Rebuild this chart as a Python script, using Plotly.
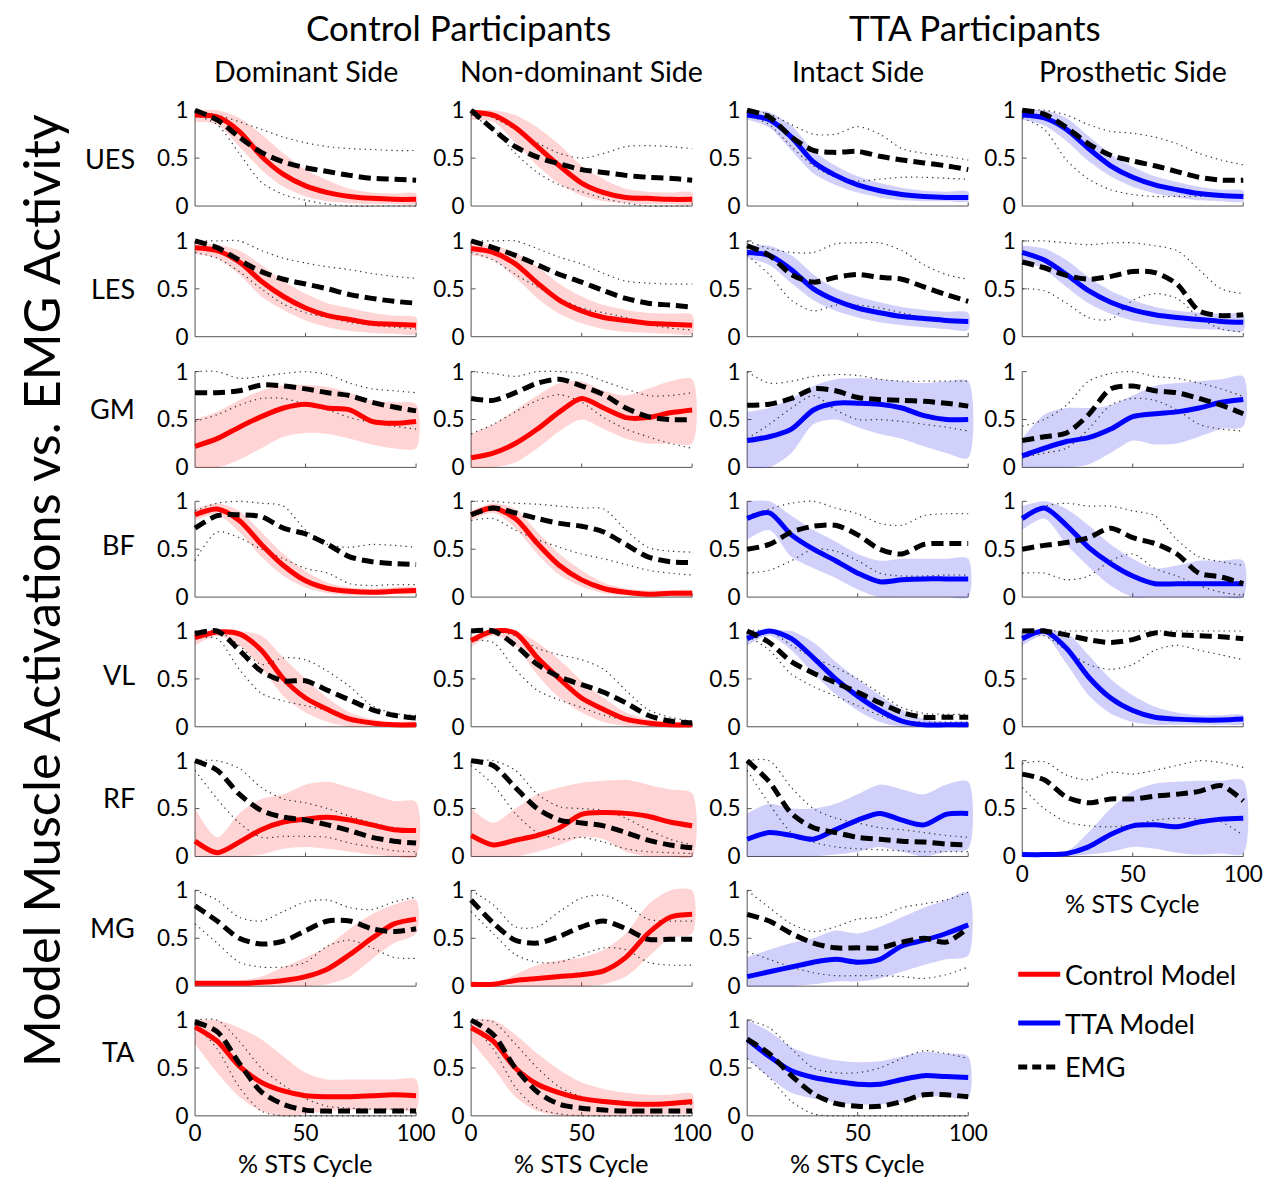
import plotly.graph_objects as go

W, H = 1273, 1185
FONT = "Lato"
# measured page-to-picture mapping of the viewer: picture = S * figure_px + (AX, AY)
S, AX, AY = 0.988, 1.0, 7.5

# ---------------- categories / ticks ----------------
X = [0, 10, 20, 30, 40, 50, 60, 70, 80, 90, 100]
MUSCLES = ["UES", "LES", "GM", "BF", "VL", "RF", "MG", "TA"]
SIDES = ["Dominant Side", "Non-dominant Side", "Intact Side", "Prosthetic Side"]
GROUPS = ["Control Participants", "TTA Participants"]
XTICKS = [0, 50, 100]
YTICKS = [0, 0.5, 1]
YTICKTEXT = ["0", "0.5", "1"]
LEGEND_LABELS = ["Control Model", "TTA Model", "EMG"]

# ---------------- data: model mean / band lo / band hi / EMG mean / EMG lo / EMG hi ----------------
# UES
ues_dom_model = [0.95, 0.93, 0.78, 0.52, 0.33, 0.21, 0.14, 0.10, 0.08, 0.07, 0.07]
ues_dom_lo = [0.88, 0.85, 0.62, 0.38, 0.20, 0.10, 0.05, 0.03, 0.02, 0.02, 0.02]
ues_dom_hi = [1.00, 1.00, 0.92, 0.75, 0.55, 0.38, 0.27, 0.18, 0.14, 0.13, 0.13]
ues_dom_emg = [1.00, 0.90, 0.72, 0.56, 0.46, 0.40, 0.36, 0.32, 0.29, 0.28, 0.27]
ues_dom_emg_lo = [0.95, 0.85, 0.55, 0.25, 0.12, 0.06, 0.02, 0.00, 0.00, 0.00, 0.00]
ues_dom_emg_hi = [1.00, 0.95, 0.88, 0.80, 0.72, 0.66, 0.62, 0.60, 0.59, 0.58, 0.58]

ues_non_model = [0.98, 0.95, 0.82, 0.62, 0.42, 0.24, 0.14, 0.09, 0.08, 0.07, 0.07]
ues_non_lo = [0.90, 0.88, 0.66, 0.42, 0.23, 0.11, 0.05, 0.03, 0.02, 0.02, 0.02]
ues_non_hi = [1.00, 1.00, 0.95, 0.82, 0.64, 0.42, 0.28, 0.18, 0.15, 0.14, 0.14]
ues_non_emg = [1.00, 0.80, 0.62, 0.51, 0.44, 0.38, 0.35, 0.32, 0.30, 0.29, 0.27]
ues_non_emg_lo = [0.95, 0.80, 0.55, 0.35, 0.22, 0.15, 0.08, 0.03, 0.00, 0.00, 0.00]
ues_non_emg_hi = [1.00, 0.92, 0.80, 0.66, 0.55, 0.50, 0.55, 0.62, 0.63, 0.62, 0.60]

ues_int_model = [0.95, 0.90, 0.72, 0.46, 0.32, 0.22, 0.16, 0.12, 0.10, 0.09, 0.09]
ues_int_lo = [0.90, 0.82, 0.58, 0.34, 0.22, 0.14, 0.09, 0.06, 0.05, 0.05, 0.05]
ues_int_hi = [1.00, 0.98, 0.84, 0.58, 0.42, 0.31, 0.24, 0.19, 0.16, 0.15, 0.15]
ues_int_emg = [1.00, 0.93, 0.72, 0.58, 0.56, 0.57, 0.52, 0.48, 0.45, 0.42, 0.38]
ues_int_emg_lo = [0.95, 0.85, 0.62, 0.42, 0.30, 0.26, 0.28, 0.30, 0.30, 0.29, 0.28]
ues_int_emg_hi = [1.00, 0.96, 0.85, 0.75, 0.75, 0.83, 0.75, 0.60, 0.55, 0.52, 0.48]

ues_pro_model = [0.95, 0.92, 0.80, 0.60, 0.42, 0.30, 0.22, 0.17, 0.13, 0.11, 0.10]
ues_pro_lo = [0.90, 0.84, 0.68, 0.47, 0.31, 0.20, 0.13, 0.09, 0.06, 0.05, 0.05]
ues_pro_hi = [1.00, 1.00, 0.92, 0.73, 0.54, 0.41, 0.31, 0.25, 0.20, 0.17, 0.16]
ues_pro_emg = [1.00, 0.96, 0.82, 0.65, 0.53, 0.47, 0.42, 0.36, 0.30, 0.27, 0.27]
ues_pro_emg_lo = [0.92, 0.80, 0.48, 0.28, 0.17, 0.12, 0.10, 0.10, 0.10, 0.11, 0.12]
ues_pro_emg_hi = [1.00, 1.00, 0.95, 0.85, 0.78, 0.76, 0.72, 0.65, 0.55, 0.48, 0.43]

# LES
les_dom_model = [0.93, 0.90, 0.78, 0.58, 0.42, 0.30, 0.22, 0.18, 0.14, 0.13, 0.12]
les_dom_lo = [0.86, 0.82, 0.65, 0.42, 0.28, 0.17, 0.10, 0.06, 0.04, 0.03, 0.03]
les_dom_hi = [0.98, 0.96, 0.90, 0.75, 0.58, 0.45, 0.35, 0.30, 0.25, 0.22, 0.20]
les_dom_emg = [1.00, 0.93, 0.80, 0.68, 0.60, 0.55, 0.50, 0.44, 0.40, 0.37, 0.35]
les_dom_emg_lo = [0.88, 0.82, 0.68, 0.50, 0.34, 0.25, 0.20, 0.15, 0.12, 0.10, 0.08]
les_dom_emg_hi = [1.00, 1.00, 1.00, 0.90, 0.82, 0.77, 0.73, 0.70, 0.66, 0.63, 0.61]

les_non_model = [0.92, 0.88, 0.76, 0.56, 0.38, 0.27, 0.20, 0.17, 0.14, 0.13, 0.12]
les_non_lo = [0.85, 0.80, 0.62, 0.40, 0.24, 0.14, 0.08, 0.05, 0.04, 0.03, 0.03]
les_non_hi = [0.97, 0.95, 0.88, 0.73, 0.55, 0.42, 0.33, 0.28, 0.25, 0.24, 0.23]
les_non_emg = [1.00, 0.93, 0.85, 0.75, 0.65, 0.57, 0.48, 0.40, 0.35, 0.33, 0.31]
les_non_emg_lo = [0.88, 0.80, 0.65, 0.52, 0.40, 0.30, 0.25, 0.20, 0.13, 0.09, 0.07]
les_non_emg_hi = [1.00, 1.00, 1.00, 0.92, 0.83, 0.76, 0.66, 0.58, 0.56, 0.55, 0.55]

les_int_model = [0.88, 0.85, 0.70, 0.50, 0.38, 0.30, 0.25, 0.21, 0.19, 0.17, 0.16]
les_int_lo = [0.82, 0.75, 0.56, 0.38, 0.27, 0.20, 0.15, 0.12, 0.10, 0.08, 0.07]
les_int_hi = [0.95, 0.95, 0.85, 0.65, 0.50, 0.42, 0.36, 0.31, 0.28, 0.26, 0.25]
les_int_emg = [0.95, 0.85, 0.65, 0.57, 0.62, 0.65, 0.62, 0.60, 0.52, 0.44, 0.37]
les_int_emg_lo = [0.85, 0.65, 0.38, 0.27, 0.33, 0.33, 0.30, 0.25, 0.20, 0.17, 0.15]
les_int_emg_hi = [1.00, 0.92, 0.88, 0.88, 0.97, 0.98, 0.98, 0.90, 0.75, 0.65, 0.60]

les_pro_model = [0.88, 0.80, 0.65, 0.48, 0.36, 0.28, 0.23, 0.20, 0.18, 0.16, 0.15]
les_pro_lo = [0.80, 0.70, 0.52, 0.35, 0.24, 0.17, 0.13, 0.10, 0.08, 0.07, 0.06]
les_pro_hi = [0.95, 0.92, 0.80, 0.62, 0.48, 0.38, 0.31, 0.27, 0.25, 0.24, 0.23]
les_pro_emg = [0.78, 0.72, 0.64, 0.60, 0.63, 0.68, 0.67, 0.55, 0.27, 0.22, 0.23]
les_pro_emg_lo = [0.50, 0.48, 0.35, 0.20, 0.18, 0.38, 0.45, 0.40, 0.20, 0.08, 0.05]
les_pro_emg_hi = [1.00, 1.00, 0.98, 0.96, 0.98, 0.98, 0.95, 0.90, 0.70, 0.50, 0.45]

# GM
gm_dom_model = [0.22, 0.30, 0.42, 0.53, 0.62, 0.66, 0.62, 0.60, 0.48, 0.46, 0.48]
gm_dom_lo = [0.00, 0.00, 0.08, 0.20, 0.32, 0.36, 0.35, 0.30, 0.24, 0.20, 0.20]
gm_dom_hi = [0.50, 0.58, 0.70, 0.80, 0.86, 0.86, 0.84, 0.78, 0.70, 0.68, 0.66]
gm_dom_emg = [0.78, 0.78, 0.80, 0.86, 0.85, 0.82, 0.78, 0.75, 0.68, 0.63, 0.59]
gm_dom_emg_lo = [0.48, 0.55, 0.65, 0.72, 0.72, 0.66, 0.60, 0.52, 0.47, 0.43, 0.40]
gm_dom_emg_hi = [1.00, 1.00, 0.93, 0.95, 0.98, 1.00, 0.97, 0.88, 0.82, 0.80, 0.78]

gm_non_model = [0.10, 0.15, 0.25, 0.40, 0.58, 0.72, 0.62, 0.52, 0.52, 0.57, 0.60]
gm_non_lo = [0.00, 0.00, 0.05, 0.20, 0.38, 0.50, 0.40, 0.30, 0.25, 0.25, 0.25]
gm_non_hi = [0.35, 0.45, 0.60, 0.75, 0.88, 0.90, 0.80, 0.75, 0.82, 0.90, 0.92]
gm_non_emg = [0.72, 0.70, 0.78, 0.88, 0.92, 0.85, 0.76, 0.62, 0.53, 0.50, 0.50]
gm_non_emg_lo = [0.35, 0.45, 0.58, 0.70, 0.76, 0.68, 0.52, 0.40, 0.32, 0.25, 0.20]
gm_non_emg_hi = [1.00, 0.98, 0.95, 1.00, 1.00, 0.98, 0.90, 0.82, 0.75, 0.75, 0.78]

gm_int_model = [0.28, 0.32, 0.40, 0.60, 0.67, 0.67, 0.66, 0.62, 0.54, 0.50, 0.50]
gm_int_lo = [0.00, 0.00, 0.15, 0.45, 0.50, 0.42, 0.35, 0.30, 0.22, 0.15, 0.10]
gm_int_hi = [0.58, 0.62, 0.72, 0.85, 0.92, 0.93, 0.92, 0.90, 0.88, 0.90, 0.90]
gm_int_emg = [0.65, 0.66, 0.72, 0.82, 0.80, 0.73, 0.71, 0.70, 0.69, 0.67, 0.64]
gm_int_emg_lo = [0.30, 0.45, 0.62, 0.75, 0.60, 0.50, 0.50, 0.48, 0.45, 0.42, 0.38]
gm_int_emg_hi = [1.00, 0.88, 0.90, 0.95, 0.97, 0.96, 0.92, 0.90, 0.90, 0.90, 0.90]

gm_pro_model = [0.12, 0.20, 0.27, 0.31, 0.40, 0.53, 0.56, 0.58, 0.62, 0.68, 0.71]
gm_pro_lo = [0.00, 0.00, 0.00, 0.03, 0.15, 0.28, 0.24, 0.25, 0.32, 0.40, 0.43]
gm_pro_hi = [0.30, 0.55, 0.62, 0.62, 0.65, 0.75, 0.85, 0.88, 0.90, 0.92, 0.95]
gm_pro_emg = [0.28, 0.32, 0.36, 0.55, 0.82, 0.85, 0.80, 0.78, 0.72, 0.65, 0.56]
gm_pro_emg_lo = [0.10, 0.15, 0.20, 0.40, 0.65, 0.72, 0.70, 0.60, 0.45, 0.40, 0.38]
gm_pro_emg_hi = [0.43, 0.50, 0.65, 0.90, 0.98, 1.00, 0.95, 0.93, 0.88, 0.82, 0.74]

# BF
bf_dom_model = [0.86, 0.92, 0.80, 0.55, 0.33, 0.17, 0.09, 0.06, 0.05, 0.06, 0.07]
bf_dom_lo = [0.80, 0.86, 0.68, 0.42, 0.22, 0.10, 0.04, 0.02, 0.02, 0.03, 0.04]
bf_dom_hi = [0.92, 0.98, 0.90, 0.68, 0.45, 0.27, 0.15, 0.10, 0.09, 0.10, 0.10]
bf_dom_emg = [0.72, 0.85, 0.86, 0.84, 0.72, 0.66, 0.55, 0.42, 0.37, 0.35, 0.34]
bf_dom_emg_lo = [0.38, 0.68, 0.62, 0.50, 0.40, 0.30, 0.25, 0.14, 0.12, 0.13, 0.13]
bf_dom_emg_hi = [0.90, 0.98, 1.00, 0.98, 0.95, 0.70, 0.55, 0.52, 0.55, 0.54, 0.52]

bf_non_model = [0.86, 0.93, 0.82, 0.56, 0.33, 0.18, 0.09, 0.05, 0.03, 0.04, 0.04]
bf_non_lo = [0.80, 0.88, 0.72, 0.45, 0.23, 0.11, 0.04, 0.02, 0.01, 0.01, 0.01]
bf_non_hi = [0.90, 0.98, 0.92, 0.68, 0.45, 0.28, 0.15, 0.09, 0.07, 0.07, 0.07]
bf_non_emg = [0.86, 0.93, 0.88, 0.82, 0.77, 0.74, 0.68, 0.55, 0.42, 0.37, 0.36]
bf_non_emg_lo = [0.80, 0.82, 0.70, 0.60, 0.52, 0.45, 0.40, 0.34, 0.28, 0.25, 0.23]
bf_non_emg_hi = [1.00, 1.00, 0.98, 0.97, 0.95, 0.93, 0.92, 0.70, 0.52, 0.48, 0.47]

bf_int_model = [0.82, 0.88, 0.65, 0.50, 0.38, 0.25, 0.16, 0.18, 0.19, 0.19, 0.19]
bf_int_lo = [0.60, 0.70, 0.42, 0.30, 0.20, 0.08, 0.00, 0.00, 0.00, 0.00, 0.00]
bf_int_hi = [1.00, 1.00, 0.85, 0.70, 0.58, 0.45, 0.38, 0.40, 0.40, 0.40, 0.40]
bf_int_emg = [0.50, 0.55, 0.68, 0.74, 0.75, 0.65, 0.50, 0.45, 0.55, 0.56, 0.56]
bf_int_emg_lo = [0.25, 0.28, 0.38, 0.50, 0.48, 0.38, 0.25, 0.22, 0.22, 0.23, 0.23]
bf_int_emg_hi = [0.85, 0.92, 0.98, 1.00, 0.93, 0.87, 0.77, 0.75, 0.85, 0.87, 0.87]

bf_pro_model = [0.82, 0.93, 0.75, 0.52, 0.35, 0.22, 0.14, 0.14, 0.14, 0.14, 0.14]
bf_pro_lo = [0.70, 0.82, 0.55, 0.32, 0.12, 0.00, 0.00, 0.00, 0.00, 0.00, 0.00]
bf_pro_hi = [0.95, 1.00, 0.92, 0.75, 0.55, 0.40, 0.30, 0.33, 0.38, 0.38, 0.38]
bf_pro_emg = [0.50, 0.54, 0.57, 0.62, 0.72, 0.62, 0.56, 0.45, 0.25, 0.21, 0.14]
bf_pro_emg_lo = [0.25, 0.25, 0.18, 0.22, 0.38, 0.45, 0.30, 0.22, 0.12, 0.05, 0.02]
bf_pro_emg_hi = [0.85, 0.95, 0.98, 0.95, 0.95, 0.90, 0.85, 0.60, 0.42, 0.37, 0.33]

# VL
vl_dom_model = [0.93, 0.99, 0.97, 0.80, 0.50, 0.30, 0.18, 0.08, 0.04, 0.02, 0.02]
vl_dom_lo = [0.85, 0.95, 0.85, 0.62, 0.32, 0.15, 0.05, 0.00, 0.00, 0.00, 0.00]
vl_dom_hi = [1.00, 1.00, 1.00, 0.95, 0.72, 0.50, 0.30, 0.15, 0.08, 0.05, 0.05]
vl_dom_emg = [0.97, 1.00, 0.80, 0.58, 0.48, 0.48, 0.38, 0.28, 0.18, 0.12, 0.09]
vl_dom_emg_lo = [0.92, 0.92, 0.60, 0.35, 0.27, 0.22, 0.17, 0.10, 0.05, 0.02, 0.02]
vl_dom_emg_hi = [1.00, 1.00, 0.85, 0.65, 0.72, 0.70, 0.58, 0.42, 0.22, 0.14, 0.12]

vl_non_model = [0.90, 1.00, 0.98, 0.72, 0.50, 0.30, 0.18, 0.08, 0.04, 0.02, 0.02]
vl_non_lo = [0.83, 0.95, 0.85, 0.54, 0.30, 0.15, 0.05, 0.01, 0.00, 0.00, 0.00]
vl_non_hi = [0.95, 1.00, 1.00, 0.88, 0.70, 0.48, 0.30, 0.15, 0.08, 0.05, 0.04]
vl_non_emg = [1.00, 1.00, 0.85, 0.65, 0.52, 0.44, 0.36, 0.25, 0.12, 0.06, 0.04]
vl_non_emg_lo = [0.90, 0.88, 0.60, 0.38, 0.28, 0.20, 0.12, 0.07, 0.03, 0.01, 0.00]
vl_non_emg_hi = [1.00, 1.00, 0.95, 0.82, 0.75, 0.70, 0.60, 0.38, 0.18, 0.10, 0.06]

vl_int_model = [0.92, 1.00, 0.92, 0.72, 0.50, 0.32, 0.17, 0.06, 0.02, 0.02, 0.02]
vl_int_lo = [0.85, 0.95, 0.80, 0.56, 0.34, 0.17, 0.05, 0.00, 0.00, 0.00, 0.00]
vl_int_hi = [1.00, 1.00, 1.00, 0.88, 0.68, 0.50, 0.33, 0.18, 0.08, 0.05, 0.05]
vl_int_emg = [1.00, 0.88, 0.68, 0.56, 0.46, 0.36, 0.25, 0.15, 0.10, 0.10, 0.10]
vl_int_emg_lo = [0.95, 0.80, 0.55, 0.42, 0.32, 0.22, 0.12, 0.06, 0.05, 0.05, 0.05]
vl_int_emg_hi = [1.00, 1.00, 0.85, 0.72, 0.62, 0.50, 0.35, 0.20, 0.14, 0.13, 0.13]

vl_pro_model = [0.92, 1.00, 0.82, 0.52, 0.30, 0.17, 0.10, 0.08, 0.07, 0.07, 0.08]
vl_pro_lo = [0.85, 0.95, 0.66, 0.33, 0.14, 0.05, 0.02, 0.02, 0.02, 0.02, 0.03]
vl_pro_hi = [1.00, 1.00, 0.98, 0.75, 0.50, 0.33, 0.21, 0.15, 0.12, 0.12, 0.12]
vl_pro_emg = [1.00, 1.00, 0.96, 0.91, 0.88, 0.91, 0.98, 0.96, 0.95, 0.94, 0.92]
vl_pro_emg_lo = [0.95, 0.95, 0.80, 0.65, 0.60, 0.65, 0.80, 0.85, 0.80, 0.75, 0.70]
vl_pro_emg_hi = [1.00, 1.00, 1.00, 1.00, 1.00, 1.00, 1.00, 1.00, 1.00, 1.00, 1.00]

# RF
rf_dom_model = [0.16, 0.04, 0.15, 0.28, 0.36, 0.39, 0.41, 0.38, 0.33, 0.28, 0.27]
rf_dom_lo = [0.00, 0.00, 0.00, 0.02, 0.08, 0.10, 0.08, 0.05, 0.02, 0.00, 0.00]
rf_dom_hi = [0.50, 0.20, 0.45, 0.60, 0.65, 0.75, 0.78, 0.72, 0.65, 0.58, 0.57]
rf_dom_emg = [1.00, 0.90, 0.65, 0.48, 0.41, 0.38, 0.33, 0.27, 0.20, 0.16, 0.14]
rf_dom_emg_lo = [0.90, 0.60, 0.35, 0.20, 0.21, 0.21, 0.20, 0.14, 0.10, 0.06, 0.05]
rf_dom_emg_hi = [1.00, 1.00, 0.92, 0.72, 0.60, 0.56, 0.50, 0.42, 0.35, 0.30, 0.27]

rf_non_model = [0.22, 0.12, 0.17, 0.22, 0.30, 0.44, 0.46, 0.45, 0.42, 0.36, 0.32]
rf_non_lo = [0.00, 0.00, 0.00, 0.05, 0.12, 0.20, 0.18, 0.05, 0.00, 0.00, 0.00]
rf_non_hi = [0.50, 0.35, 0.50, 0.65, 0.72, 0.77, 0.79, 0.80, 0.75, 0.70, 0.66]
rf_non_emg = [1.00, 0.95, 0.72, 0.50, 0.38, 0.35, 0.32, 0.25, 0.17, 0.12, 0.09]
rf_non_emg_lo = [0.95, 0.75, 0.45, 0.25, 0.18, 0.20, 0.15, 0.08, 0.05, 0.04, 0.03]
rf_non_emg_hi = [1.00, 1.00, 0.90, 0.65, 0.52, 0.50, 0.48, 0.40, 0.28, 0.18, 0.12]

rf_int_model = [0.18, 0.25, 0.22, 0.18, 0.28, 0.38, 0.45, 0.38, 0.33, 0.44, 0.45]
rf_int_lo = [0.00, 0.00, 0.00, 0.00, 0.02, 0.05, 0.10, 0.05, 0.00, 0.05, 0.08]
rf_int_hi = [0.45, 0.55, 0.50, 0.50, 0.55, 0.65, 0.75, 0.70, 0.65, 0.75, 0.78]
rf_int_emg = [1.00, 0.78, 0.45, 0.30, 0.25, 0.20, 0.18, 0.16, 0.15, 0.13, 0.12]
rf_int_emg_lo = [0.90, 0.55, 0.25, 0.15, 0.10, 0.08, 0.07, 0.06, 0.05, 0.05, 0.05]
rf_int_emg_hi = [1.00, 1.00, 0.72, 0.50, 0.40, 0.35, 0.30, 0.28, 0.25, 0.22, 0.20]

rf_pro_model = [0.02, 0.02, 0.03, 0.10, 0.23, 0.32, 0.33, 0.31, 0.36, 0.39, 0.40]
rf_pro_lo = [0.00, 0.00, 0.00, 0.02, 0.05, 0.10, 0.08, 0.04, 0.02, 0.03, 0.03]
rf_pro_hi = [0.03, 0.03, 0.05, 0.25, 0.50, 0.68, 0.76, 0.78, 0.79, 0.79, 0.79]
rf_pro_emg = [0.86, 0.80, 0.62, 0.56, 0.60, 0.60, 0.63, 0.65, 0.68, 0.74, 0.58]
rf_pro_emg_lo = [0.72, 0.50, 0.36, 0.32, 0.31, 0.33, 0.38, 0.40, 0.39, 0.36, 0.22]
rf_pro_emg_hi = [0.97, 0.99, 0.85, 0.80, 0.88, 0.86, 0.90, 0.95, 1.00, 0.98, 0.93]

# MG
mg_dom_model = [0.03, 0.03, 0.03, 0.04, 0.06, 0.10, 0.18, 0.33, 0.50, 0.65, 0.70]
mg_dom_lo = [0.00, 0.00, 0.00, 0.00, 0.00, 0.00, 0.02, 0.10, 0.28, 0.45, 0.55]
mg_dom_hi = [0.05, 0.05, 0.06, 0.10, 0.20, 0.30, 0.42, 0.60, 0.75, 0.85, 0.90]
mg_dom_emg = [0.84, 0.68, 0.50, 0.44, 0.47, 0.58, 0.68, 0.68, 0.60, 0.57, 0.60]
mg_dom_emg_lo = [0.65, 0.45, 0.25, 0.20, 0.20, 0.25, 0.42, 0.48, 0.40, 0.30, 0.29]
mg_dom_emg_hi = [1.00, 0.90, 0.72, 0.68, 0.78, 0.88, 0.90, 0.82, 0.80, 0.88, 0.93]

mg_non_model = [0.02, 0.02, 0.06, 0.08, 0.10, 0.12, 0.16, 0.30, 0.55, 0.72, 0.75]
mg_non_lo = [0.00, 0.00, 0.00, 0.00, 0.00, 0.00, 0.02, 0.10, 0.30, 0.50, 0.55]
mg_non_hi = [0.03, 0.03, 0.12, 0.22, 0.27, 0.30, 0.38, 0.55, 0.85, 1.00, 1.00]
mg_non_emg = [0.90, 0.66, 0.48, 0.45, 0.52, 0.62, 0.68, 0.60, 0.49, 0.49, 0.49]
mg_non_emg_lo = [0.78, 0.55, 0.33, 0.25, 0.25, 0.33, 0.40, 0.38, 0.25, 0.22, 0.22]
mg_non_emg_hi = [1.00, 0.85, 0.62, 0.62, 0.78, 0.92, 0.95, 0.85, 0.70, 0.68, 0.68]

mg_int_model = [0.10, 0.15, 0.20, 0.25, 0.28, 0.25, 0.28, 0.42, 0.48, 0.55, 0.64]
mg_int_lo = [0.00, 0.00, 0.00, 0.02, 0.05, 0.05, 0.08, 0.15, 0.22, 0.28, 0.32]
mg_int_hi = [0.30, 0.38, 0.45, 0.50, 0.58, 0.55, 0.62, 0.72, 0.82, 0.90, 0.98]
mg_int_emg = [0.75, 0.68, 0.55, 0.45, 0.40, 0.40, 0.40, 0.46, 0.50, 0.46, 0.61]
mg_int_emg_lo = [0.36, 0.28, 0.20, 0.14, 0.11, 0.11, 0.11, 0.10, 0.08, 0.12, 0.20]
mg_int_emg_hi = [1.00, 0.82, 0.65, 0.57, 0.62, 0.70, 0.72, 0.82, 0.86, 0.90, 0.98]

# TA
ta_dom_model = [0.93, 0.78, 0.52, 0.35, 0.26, 0.21, 0.20, 0.20, 0.21, 0.22, 0.21]
ta_dom_lo = [0.75, 0.45, 0.20, 0.05, 0.00, 0.02, 0.05, 0.06, 0.06, 0.06, 0.06]
ta_dom_hi = [1.00, 1.00, 0.92, 0.80, 0.62, 0.45, 0.38, 0.38, 0.38, 0.38, 0.38]
ta_dom_emg = [0.98, 0.88, 0.55, 0.25, 0.12, 0.06, 0.05, 0.05, 0.05, 0.05, 0.05]
ta_dom_emg_lo = [0.95, 0.70, 0.30, 0.05, 0.00, 0.00, 0.00, 0.00, 0.00, 0.00, 0.00]
ta_dom_emg_hi = [1.00, 1.00, 0.78, 0.50, 0.32, 0.18, 0.10, 0.08, 0.07, 0.07, 0.07]

ta_non_model = [0.92, 0.78, 0.50, 0.33, 0.24, 0.18, 0.15, 0.13, 0.12, 0.13, 0.15]
ta_non_lo = [0.78, 0.50, 0.20, 0.05, 0.00, 0.00, 0.00, 0.00, 0.00, 0.02, 0.03]
ta_non_hi = [1.00, 1.00, 0.85, 0.65, 0.48, 0.35, 0.28, 0.24, 0.22, 0.22, 0.23]
ta_non_emg = [1.00, 0.85, 0.50, 0.25, 0.12, 0.08, 0.06, 0.05, 0.05, 0.05, 0.05]
ta_non_emg_lo = [0.95, 0.70, 0.30, 0.08, 0.02, 0.00, 0.00, 0.00, 0.00, 0.00, 0.00]
ta_non_emg_hi = [1.00, 0.98, 0.75, 0.50, 0.30, 0.20, 0.15, 0.12, 0.12, 0.12, 0.12]

ta_int_model = [0.80, 0.62, 0.47, 0.40, 0.36, 0.33, 0.33, 0.38, 0.42, 0.41, 0.40]
ta_int_lo = [0.60, 0.40, 0.24, 0.18, 0.14, 0.12, 0.12, 0.15, 0.20, 0.20, 0.18]
ta_int_hi = [1.00, 0.88, 0.72, 0.63, 0.58, 0.56, 0.57, 0.62, 0.67, 0.65, 0.62]
ta_int_emg = [0.80, 0.65, 0.42, 0.23, 0.13, 0.10, 0.10, 0.15, 0.22, 0.22, 0.20]
ta_int_emg_lo = [0.60, 0.40, 0.15, 0.02, 0.00, 0.00, 0.00, 0.00, 0.00, 0.00, 0.00]
ta_int_emg_hi = [1.00, 0.92, 0.70, 0.50, 0.45, 0.45, 0.50, 0.60, 0.68, 0.65, 0.60]

# ---------------- panel table: (row, col, model, lo, hi, emg, emg_lo, emg_hi) ----------------
PANELS = [
    (0, 0, ues_dom_model, ues_dom_lo, ues_dom_hi, ues_dom_emg, ues_dom_emg_lo, ues_dom_emg_hi),
    (0, 1, ues_non_model, ues_non_lo, ues_non_hi, ues_non_emg, ues_non_emg_lo, ues_non_emg_hi),
    (0, 2, ues_int_model, ues_int_lo, ues_int_hi, ues_int_emg, ues_int_emg_lo, ues_int_emg_hi),
    (0, 3, ues_pro_model, ues_pro_lo, ues_pro_hi, ues_pro_emg, ues_pro_emg_lo, ues_pro_emg_hi),
    (1, 0, les_dom_model, les_dom_lo, les_dom_hi, les_dom_emg, les_dom_emg_lo, les_dom_emg_hi),
    (1, 1, les_non_model, les_non_lo, les_non_hi, les_non_emg, les_non_emg_lo, les_non_emg_hi),
    (1, 2, les_int_model, les_int_lo, les_int_hi, les_int_emg, les_int_emg_lo, les_int_emg_hi),
    (1, 3, les_pro_model, les_pro_lo, les_pro_hi, les_pro_emg, les_pro_emg_lo, les_pro_emg_hi),
    (2, 0, gm_dom_model, gm_dom_lo, gm_dom_hi, gm_dom_emg, gm_dom_emg_lo, gm_dom_emg_hi),
    (2, 1, gm_non_model, gm_non_lo, gm_non_hi, gm_non_emg, gm_non_emg_lo, gm_non_emg_hi),
    (2, 2, gm_int_model, gm_int_lo, gm_int_hi, gm_int_emg, gm_int_emg_lo, gm_int_emg_hi),
    (2, 3, gm_pro_model, gm_pro_lo, gm_pro_hi, gm_pro_emg, gm_pro_emg_lo, gm_pro_emg_hi),
    (3, 0, bf_dom_model, bf_dom_lo, bf_dom_hi, bf_dom_emg, bf_dom_emg_lo, bf_dom_emg_hi),
    (3, 1, bf_non_model, bf_non_lo, bf_non_hi, bf_non_emg, bf_non_emg_lo, bf_non_emg_hi),
    (3, 2, bf_int_model, bf_int_lo, bf_int_hi, bf_int_emg, bf_int_emg_lo, bf_int_emg_hi),
    (3, 3, bf_pro_model, bf_pro_lo, bf_pro_hi, bf_pro_emg, bf_pro_emg_lo, bf_pro_emg_hi),
    (4, 0, vl_dom_model, vl_dom_lo, vl_dom_hi, vl_dom_emg, vl_dom_emg_lo, vl_dom_emg_hi),
    (4, 1, vl_non_model, vl_non_lo, vl_non_hi, vl_non_emg, vl_non_emg_lo, vl_non_emg_hi),
    (4, 2, vl_int_model, vl_int_lo, vl_int_hi, vl_int_emg, vl_int_emg_lo, vl_int_emg_hi),
    (4, 3, vl_pro_model, vl_pro_lo, vl_pro_hi, vl_pro_emg, vl_pro_emg_lo, vl_pro_emg_hi),
    (5, 0, rf_dom_model, rf_dom_lo, rf_dom_hi, rf_dom_emg, rf_dom_emg_lo, rf_dom_emg_hi),
    (5, 1, rf_non_model, rf_non_lo, rf_non_hi, rf_non_emg, rf_non_emg_lo, rf_non_emg_hi),
    (5, 2, rf_int_model, rf_int_lo, rf_int_hi, rf_int_emg, rf_int_emg_lo, rf_int_emg_hi),
    (5, 3, rf_pro_model, rf_pro_lo, rf_pro_hi, rf_pro_emg, rf_pro_emg_lo, rf_pro_emg_hi),
    (6, 0, mg_dom_model, mg_dom_lo, mg_dom_hi, mg_dom_emg, mg_dom_emg_lo, mg_dom_emg_hi),
    (6, 1, mg_non_model, mg_non_lo, mg_non_hi, mg_non_emg, mg_non_emg_lo, mg_non_emg_hi),
    (6, 2, mg_int_model, mg_int_lo, mg_int_hi, mg_int_emg, mg_int_emg_lo, mg_int_emg_hi),
    (7, 0, ta_dom_model, ta_dom_lo, ta_dom_hi, ta_dom_emg, ta_dom_emg_lo, ta_dom_emg_hi),
    (7, 1, ta_non_model, ta_non_lo, ta_non_hi, ta_non_emg, ta_non_emg_lo, ta_non_emg_hi),
    (7, 2, ta_int_model, ta_int_lo, ta_int_hi, ta_int_emg, ta_int_emg_lo, ta_int_emg_hi),
]

# ---------------- styling / layout geometry (target picture pixels) ----------------
RED, BLUE = "#ff0000", "#0000ff"
RED_BAND, BLUE_BAND = "rgba(255,0,0,0.17)", "rgba(40,40,230,0.22)"
SPINE = "#555555"
COL_X0 = [195, 471, 747, 1022]          # picture pixel of x=0 in each column
ROW_Y0 = [208, 339, 470, 600, 730, 860, 990, 1120]  # picture pixel of y=0 in each row
LABEL_Y = [160, 291, 411, 547, 678, 801, 931, 1055]
PX_X, PX_Y = 2.21, 96.0                 # picture pixels per data unit
XR = [-2.5, 102.5]
YR_MID, YR_BOTTOM = [-0.05, 1.08], [-0.02, 1.08]
BOTTOM_ROW = [7, 7, 7, 5]
TICK_SIZE = 22.5


def px(p):   # target picture x pixel -> paper fraction
    return (p - AX) / S / W


def py(p):   # target picture y pixel -> paper fraction
    return 1 - (p - AY) / S / H


fig = go.Figure()
layout = {}
shapes = []
annotations = []

for k, (r, c, model, lo, hi, emg, emg_lo, emg_hi) in enumerate(PANELS):
    n = k + 1
    xa, ya = ("x", "y") if n == 1 else (f"x{n}", f"y{n}")
    color = RED if c < 2 else BLUE
    band = RED_BAND if c < 2 else BLUE_BAND
    is_bottom = (r == BOTTOM_ROW[c])
    yr = YR_BOTTOM if is_bottom else YR_MID

    fig.add_trace(go.Scatter(x=X + X[::-1], y=hi + lo[::-1], fill="toself", fillcolor=band,
                             line=dict(width=0, shape="spline", smoothing=0.8), mode="lines",
                             hoverinfo="skip", showlegend=False, xaxis=xa, yaxis=ya))
    for bound in (emg_lo, emg_hi):
        fig.add_trace(go.Scatter(x=X, y=bound, mode="lines",
                                 line=dict(color="#333333", width=1.2, dash="1.3px,4px", shape="spline", smoothing=0.8),
                                 showlegend=False, hoverinfo="skip", xaxis=xa, yaxis=ya))
    fig.add_trace(go.Scatter(x=X, y=model, mode="lines",
                             line=dict(color=color, width=5, shape="spline", smoothing=0.8),
                             showlegend=False, xaxis=xa, yaxis=ya))
    fig.add_trace(go.Scatter(x=X, y=emg, mode="lines",
                             line=dict(color="black", width=5, dash="12px,6px", shape="spline", smoothing=0.8),
                             showlegend=False, xaxis=xa, yaxis=ya))

    x_left = COL_X0[c] + XR[0] * PX_X
    x_right = COL_X0[c] + XR[1] * PX_X
    y_bot = ROW_Y0[r] - yr[0] * PX_Y
    y_top = ROW_Y0[r] - yr[1] * PX_Y
    suffix = "" if n == 1 else str(n)
    layout["xaxis" + suffix] = dict(domain=[px(x_left), px(x_right)], range=XR, anchor=ya,
                                    showgrid=False, zeroline=False, showline=False,
                                    tickvals=XTICKS, ticktext=[str(v) for v in XTICKS],
                                    showticklabels=is_bottom, ticks="",
                                    tickfont=dict(family=FONT, size=TICK_SIZE, color="black"))
    layout["yaxis" + suffix] = dict(domain=[py(y_bot), py(y_top)], range=yr, anchor=xa,
                                    showgrid=False, zeroline=False, showline=False,
                                    tickvals=YTICKS, ticktext=YTICKTEXT, ticks="",
                                    tickfont=dict(family=FONT, size=TICK_SIZE, color="black"))
    # spines and inward ticks
    spine = dict(type="line", xref=xa, yref=ya, line=dict(color=SPINE, width=1), layer="below")
    shapes.append(dict(spine, x0=0, y0=0, x1=0, y1=1.0))
    shapes.append(dict(spine, x0=0, y0=0, x1=100, y1=0))
    for tv in (50, 100):
        shapes.append(dict(spine, x0=tv, y0=0, x1=tv, y1=0.04))
    for tv in (0.5, 1.0):
        shapes.append(dict(spine, x0=0, y0=tv, x1=2, y1=tv))

    if is_bottom:
        annotations.append(dict(text="% STS Cycle", xref="paper", yref="paper",
                                x=px(COL_X0[c] + 50 * PX_X), y=py(ROW_Y0[r] + 47),
                                showarrow=False, xanchor="center", yanchor="middle",
                                font=dict(family=FONT, size=25, color="black")))

# row labels
for m, ly in zip(MUSCLES, LABEL_Y):
    annotations.append(dict(text=m, xref="paper", yref="paper", x=px(137), y=py(ly),
                            showarrow=False, xanchor="right", yanchor="middle",
                            font=dict(family=FONT, size=27, color="black")))

# column headers
for c, s in enumerate(SIDES):
    annotations.append(dict(text=s, xref="paper", yref="paper", x=px(COL_X0[c] + 50 * PX_X), y=py(73),
                            showarrow=False, xanchor="center", yanchor="middle",
                            font=dict(family=FONT, size=28.5, color="black")))
for g, cx in zip(GROUPS, [458, 975]):
    annotations.append(dict(text=g, xref="paper", yref="paper", x=px(cx), y=py(29),
                            showarrow=False, xanchor="center", yanchor="middle",
                            font=dict(family=FONT, size=35, color="black")))

# y title
annotations.append(dict(text="Model Muscle Activations vs. EMG Activity", xref="paper", yref="paper",
                        x=px(40), y=py(594), textangle=-90, showarrow=False,
                        xanchor="center", yanchor="middle",
                        font=dict(family=FONT, size=50.5, color="black")))

# legend
LEG_Y = [978, 1027, 1071]
LEG_STYLE = [dict(color=RED, width=5), dict(color=BLUE, width=5), dict(color="black", width=5, dash="9px,5px")]
for lab, ly, st in zip(LEGEND_LABELS, LEG_Y, LEG_STYLE):
    shapes.append(dict(type="line", xref="paper", yref="paper", x0=px(1018), x1=px(1060),
                       y0=py(ly), y1=py(ly), line=st))
    annotations.append(dict(text=lab, xref="paper", yref="paper", x=px(1063), y=py(ly),
                            showarrow=False, xanchor="left", yanchor="middle",
                            font=dict(family=FONT, size=27, color="black")))

fig.update_layout(width=W, height=H, margin=dict(l=0, r=0, t=0, b=0),
                  paper_bgcolor="white", plot_bgcolor="rgba(0,0,0,0)",
                  showlegend=False, shapes=shapes, annotations=annotations,
                  font=dict(family=FONT), **layout)

fig.write_html("out.html")
